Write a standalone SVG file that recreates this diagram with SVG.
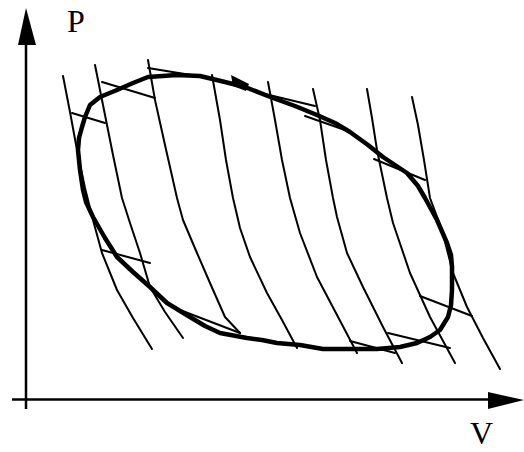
<svg xmlns="http://www.w3.org/2000/svg" width="524" height="452" viewBox="0 0 524 452">
<style>
.ax{stroke:#000;stroke-width:2.5;fill:none}
.thin{stroke:#000;stroke-width:2;fill:none;stroke-linejoin:round;stroke-linecap:round}
.loop{stroke:#000;stroke-width:4.5;fill:none;stroke-linejoin:round;stroke-linecap:round}
.lbl{font-family:"Liberation Serif","Times New Roman",serif;font-size:32px;fill:#000}
</style>
<rect width="524" height="452" fill="#fff"/>
<g id="axes">
<line class="ax" x1="26" y1="409" x2="26" y2="40"/>
<polygon points="26,8 18,45 36,45" fill="#000"/>
<line class="ax" x1="12" y1="399.5" x2="490" y2="399.5"/>
<polygon points="524,400 488,392 488,409" fill="#000"/>
</g>
<g id="isotherms">
<polyline class="thin" points="63,76 70,112 77,150 85,188 93,220 102,253 117,290 133,318 152,349"/>
<polyline class="thin" points="95,65 104,110 113,155 122,198 130,223 140,253 150,287 165,312 183,338"/>
<polyline class="thin" points="148,60 155,100 165,145 177,198 183,220 197,253 210,283 225,317 240,333"/>
<polyline class="thin" points="212,75 220,120 226,160 233,198 240,228 250,257 267,293 282,320 297,348"/>
<polyline class="thin" points="268,82 275,120 282,160 290,198 300,233 317,277 337,315 357,353"/>
<polyline class="thin" points="313,89 320,120 326,160 333,198 337,217 347,253 363,287 383,327 402,363"/>
<polyline class="thin" points="367,89 372,118 377,150 387,198 393,223 410,273 430,317 455,363"/>
<polyline class="thin" points="412,97 418,125 424,160 430,198 442,230 453,273 467,307 483,338 500,369"/>
</g>
<g id="tangents">
<line class="thin" x1="148" y1="68" x2="197" y2="76"/>
<line class="thin" x1="102" y1="82" x2="155" y2="98"/>
<line class="thin" x1="72" y1="113" x2="105" y2="123"/>
<line class="thin" x1="265" y1="94" x2="315" y2="106"/>
<line class="thin" x1="305" y1="116" x2="345" y2="130"/>
<line class="thin" x1="374" y1="159" x2="425" y2="180"/>
<line class="thin" x1="102" y1="250" x2="150" y2="263"/>
<line class="thin" x1="180" y1="310" x2="240" y2="333"/>
<line class="thin" x1="350" y1="341" x2="395" y2="353"/>
<line class="thin" x1="388" y1="333" x2="450" y2="348"/>
<line class="thin" x1="420" y1="296" x2="472" y2="316"/>
</g>
<g id="loop">
<polyline class="loop" points="148,77 177,75 200,76 225,82 245,87 273,98 295,106 317,115 335,123 350,132 368,145 383,157 407,173 418,186 425,198 437,220 447,243 451,255 452,267 452,290 451,305 448,317 440,330 430,337 417,343 400,347 377,349 350,349 323,349 300,345 277,343 262,340 247,338 220,333 205,326 190,317 167,303 150,287 133,272 117,257 105,238 93,217 86,202 83,190 80,170 78,150 79,138 82,127 85,117 90,105 100,97 117,90 133,83 148,77"/>
<polygon points="231,75 249,84 246,91 233,86" fill="#000"/>
</g>
<g id="labels">
<text class="lbl" x="67" y="32">P</text>
<text class="lbl" x="470" y="444">V</text>
</g>
</svg>
